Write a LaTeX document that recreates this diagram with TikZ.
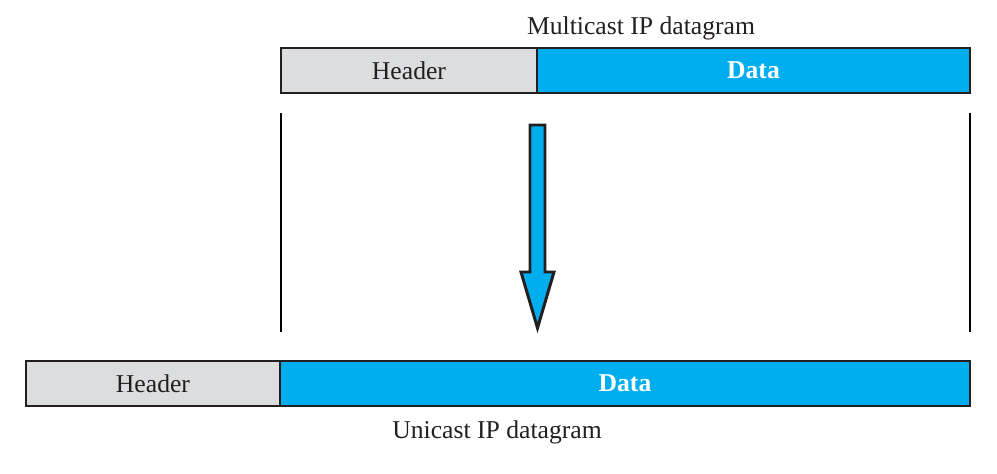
\documentclass[tikz,border=0pt]{standalone}
\usepackage{fontspec}
\setmainfont{Liberation Serif}
\usetikzlibrary{positioning}
\definecolor{datablue}{RGB}{0,174,239}
\definecolor{headgray}{RGB}{220,221,222}
\definecolor{edgegray}{RGB}{35,31,32}
\tikzstyle{field} = [draw=edgegray, line width=1.1pt, minimum height=0.9cm, inner sep=0pt, outer sep=0pt, font=\fontsize{14.6}{17}\selectfont]
\tikzstyle{head} = [field, fill=headgray, text=edgegray]
\tikzstyle{data} = [field, fill=datablue, text=white, font=\fontsize{14.6}{17}\selectfont\bfseries]
\tikzstyle{caption} = [font=\fontsize{14.6}{17}\selectfont, text=edgegray]
\tikzstyle{guide} = [draw=black, line width=0.8pt]

\begin{document}
\begin{tikzpicture}
	\useasboundingbox (0,0) rectangle (19.94,-9.46);
	% multicast datagram
	\node[head, minimum width=5.12cm, anchor=north west] (mhead) at (5.62,-0.96) {Header};
	\node[data, minimum width=8.66cm, right=0pt of mhead] (mdata) {Data};
	\node[caption] (mlabel) at (12.82,-0.56) {Multicast IP datagram};

	% guides
	\draw[guide] ([yshift=-0.4cm]mhead.south west) -- +(0,-4.38);
	\draw[guide] ([yshift=-0.4cm]mdata.south east) -- +(0,-4.38);

	% arrow
	\draw[draw=edgegray, line width=1.7pt, fill=datablue, line join=miter]
		(10.6,-2.5) -- (10.9,-2.5) -- (10.9,-5.44) -- (11.08,-5.44)
		-- (10.75,-6.56) -- (10.42,-5.44) -- (10.6,-5.44) -- cycle;

	% unicast datagram
	\node[head, minimum width=5.08cm, anchor=north west] (uhead) at (0.52,-7.22) {Header};
	\node[data, minimum width=13.8cm, right=0pt of uhead] (udata) {Data};
	\node[caption] (ulabel) at (9.94,-8.64) {Unicast IP datagram};
\end{tikzpicture}
\end{document}
